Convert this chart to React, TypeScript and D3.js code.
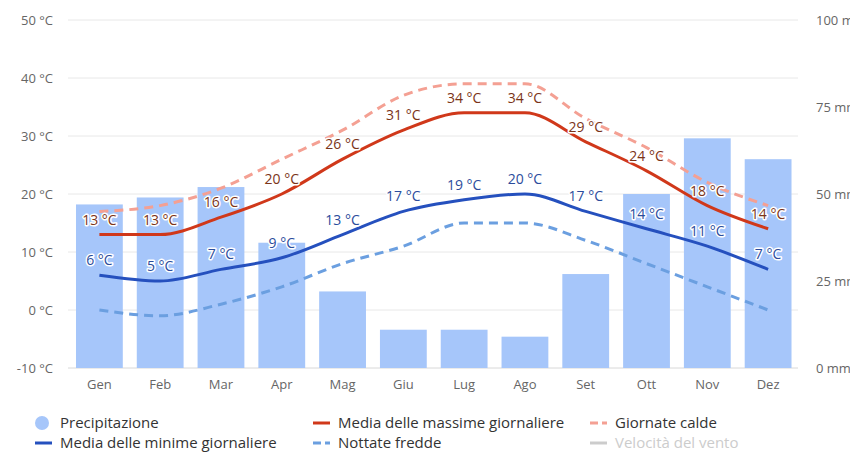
import React from "react";
import * as d3 from "d3";

// Monthly climate data
const months = ["Gen", "Feb", "Mar", "Apr", "Mag", "Giu", "Lug", "Ago", "Set", "Ott", "Nov", "Dez"];
const precipitation = [47, 49, 52, 36, 22, 11, 11, 9, 27, 50, 66, 60];
const maxTemps = [13, 13, 16, 20, 26, 31, 34, 34, 29, 24, 18, 14];
const minTemps = [6, 5, 7, 9, 13, 17, 19, 20, 17, 14, 11, 7];
const hotDays = [17, 18, 21, 26, 31, 37, 39, 39, 33, 28, 22, 18];
const coldNights = [0, -1, 1, 4, 8, 11, 15, 15, 12, 8, 4, 0];
const tempTicks = [-10, 0, 10, 20, 30, 40, 50];
const precipTicks = [0, 25, 50, 75, 100];

const W = 850;
const H = 459;
const FONT = "'Open Sans', 'DejaVu Sans', sans-serif";

const COLORS = {
  bar: "#a6c6fa",
  max: "#d0381a",
  min: "#2550be",
  hot: "#f4a093",
  cold: "#6b9fe0",
  maxLabel: "#7b3418",
  minLabel: "#2b4c9c",
  wind: "#cccccc",
};

export default function App() {
  const x = d3.scaleBand<string>().domain(months).range([69, 798.5]).padding(0);
  const yT = d3.scaleLinear().domain([-10, 50]).range([368, 20]);
  const yP = d3.scaleLinear().domain([0, 100]).range([368, 20]);
  const cx = (m: string) => (x(m) as number) + x.bandwidth() / 2;
  const barW = x.bandwidth() * 0.77;

  const line = (vals: number[]) =>
    d3
      .line<number>()
      .x((_, i) => cx(months[i]))
      .y((v) => yT(v))
      .curve(d3.curveMonotoneX)(vals) as string;

  const labelStyle = {
    fontFamily: FONT,
    fontSize: 14,
    fontWeight: 500,
    stroke: "#fff",
    strokeWidth: 3,
    strokeLinejoin: "round" as const,
    paintOrder: "stroke" as const,
  };

  const legendRow1 = 423;
  const legendRow2 = 443;

  return (
    <svg
      width={W}
      height={H}
      style={{ position: "absolute", left: 0, top: 0, background: "#fff" }}
    >
      {/* grid */}
      {tempTicks.map((t) => (
        <line
          key={"g" + t}
          x1={68}
          x2={798}
          y1={yT(t)}
          y2={yT(t)}
          stroke={t === -10 ? "#d8d8d8" : "#e8e8e8"}
          strokeWidth={1}
        />
      ))}

      {/* left axis labels */}
      {tempTicks.map((t) => (
        <text
          key={"lt" + t}
          x={53}
          y={yT(t)}
          dy="0.35em"
          textAnchor="end"
          fontFamily={FONT}
          fontSize={13}
          fill="#666"
        >
          {`${t} °C`}
        </text>
      ))}

      {/* right axis labels */}
      {precipTicks.map((t) => (
        <text
          key={"rt" + t}
          x={816}
          y={yP(t)}
          dy="0.35em"
          textAnchor="start"
          fontFamily={FONT}
          fontSize={13}
          fill="#666"
        >
          {`${t} mm`}
        </text>
      ))}

      {/* precipitation bars */}
      {months.map((m, i) => (
        <rect
          key={"b" + m}
          x={cx(m) - barW / 2}
          y={yP(precipitation[i])}
          width={barW}
          height={yP(0) - yP(precipitation[i])}
          fill={COLORS.bar}
        />
      ))}

      {/* x axis labels */}
      {months.map((m) => (
        <text
          key={"xl" + m}
          x={cx(m)}
          y={389}
          textAnchor="middle"
          fontFamily={FONT}
          fontSize={13}
          fill="#666"
        >
          {m}
        </text>
      ))}

      {/* temperature lines */}
      <path d={line(hotDays)} fill="none" stroke={COLORS.hot} strokeWidth={3} strokeDasharray="9,6" />
      <path d={line(coldNights)} fill="none" stroke={COLORS.cold} strokeWidth={3} strokeDasharray="9,6" />
      <path d={line(maxTemps)} fill="none" stroke={COLORS.max} strokeWidth={3} />
      <path d={line(minTemps)} fill="none" stroke={COLORS.min} strokeWidth={3} />

      {/* data labels */}
      {months.map((m, i) => (
        <text
          key={"ml" + m}
          x={cx(m)}
          y={yT(maxTemps[i]) - 10}
          textAnchor="middle"
          fill={COLORS.maxLabel}
          {...labelStyle}
        >
          {`${maxTemps[i]} °C`}
        </text>
      ))}
      {months.map((m, i) => (
        <text
          key={"nl" + m}
          x={cx(m)}
          y={yT(minTemps[i]) - 10}
          textAnchor="middle"
          fill={COLORS.minLabel}
          {...labelStyle}
        >
          {`${minTemps[i]} °C`}
        </text>
      ))}

      {/* legend */}
      <g fontFamily={FONT} fontSize={15} fill="#333">
        <circle cx={42} cy={legendRow1} r={7} fill={COLORS.bar} />
        <text x={60} y={legendRow1} dy="0.35em">Precipitazione</text>

        <line x1={313} x2={330} y1={legendRow1} y2={legendRow1} stroke={COLORS.max} strokeWidth={3} />
        <text x={338} y={legendRow1} dy="0.35em">Media delle massime giornaliere</text>

        <line x1={590} x2={607} y1={legendRow1} y2={legendRow1} stroke={COLORS.hot} strokeWidth={3} strokeDasharray="8,4" />
        <text x={615} y={legendRow1} dy="0.35em">Giornate calde</text>

        <line x1={35} x2={52} y1={legendRow2} y2={legendRow2} stroke={COLORS.min} strokeWidth={3} />
        <text x={60} y={legendRow2} dy="0.35em">Media delle minime giornaliere</text>

        <line x1={313} x2={330} y1={legendRow2} y2={legendRow2} stroke={COLORS.cold} strokeWidth={3} strokeDasharray="8,4" />
        <text x={338} y={legendRow2} dy="0.35em">Nottate fredde</text>

        <line x1={590} x2={607} y1={legendRow2} y2={legendRow2} stroke={COLORS.wind} strokeWidth={3} />
        <text x={615} y={legendRow2} dy="0.35em" fill={COLORS.wind}>Velocità del vento</text>
      </g>
    </svg>
  );
}
